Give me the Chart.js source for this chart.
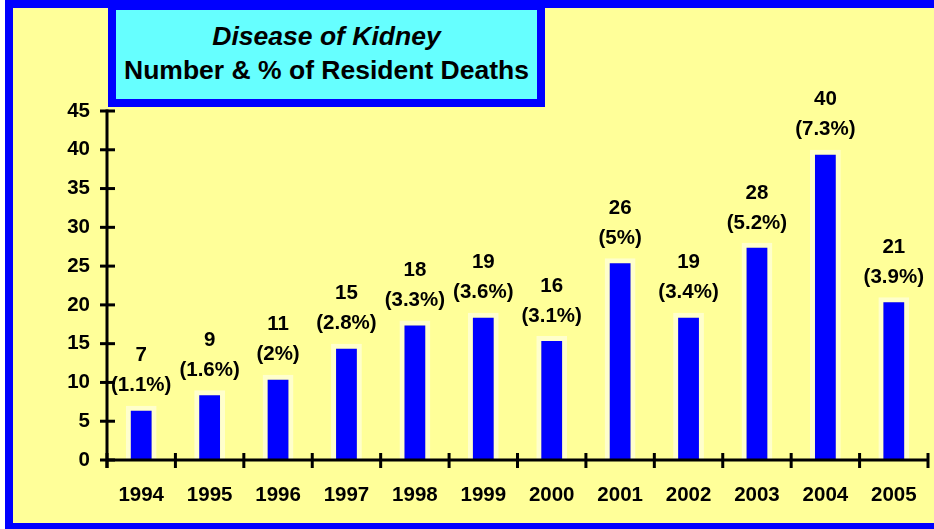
<!DOCTYPE html>
<html>
<head>
<meta charset="utf-8">
<script src="https://cdn.jsdelivr.net/npm/chart.js@4/dist/chart.umd.min.js"></script>
<style>
  html, body { margin: 0; padding: 0; width: 934px; height: 529px; overflow: hidden; background: #ffffff; }
  #frame { position: absolute; left: 5px; top: 0; width: 940px; height: 531px; box-sizing: border-box;
           border: 8px solid #0000ff; background: #ffff99; }
  #chart { position: absolute; left: 0; top: 0; }
  #titlebox { position: absolute; left: 108px; top: 0; width: 437px; height: 107px; box-sizing: border-box;
              border: 8px solid #0000ff; border-top-width: 10px; background: #66ffff;
              font-family: "Liberation Sans", Arial, sans-serif; font-weight: bold; font-size: 26.5px;
              color: #000; text-align: center; }
  #titlebox .l1 { position: absolute; left: 0; right: 0; top: 11px; font-style: italic; }
  #titlebox .l2 { position: absolute; left: 0; right: 0; top: 45px; }
</style>
</head>
<body>
<div id="frame"></div>
<canvas id="chart" width="934" height="529"></canvas>
<div id="titlebox"><div class="l1">Disease of Kidney</div><div class="l2">Number &amp; % of Resident Deaths</div></div>
<script>
const years = ["1994","1995","1996","1997","1998","1999","2000","2001","2002","2003","2004","2005"];
const deaths = [7, 9, 11, 15, 18, 19, 16, 26, 19, 28, 40, 21];
const percents = ["1.1%","1.6%","2%","2.8%","3.3%","3.6%","3.1%","5%","3.4%","5.2%","7.3%","3.9%"];
const yTicks = [0, 5, 10, 15, 20, 25, 30, 35, 40, 45];

const FONT = '"Liberation Sans", Arial, sans-serif';

const axesPlugin = {
  id: 'axesPlugin',
  afterDatasetsDraw(chart) {
    const ctx = chart.ctx, ca = chart.chartArea;
    const xs = chart.scales.x, ys = chart.scales.y;
    ctx.save();
    ctx.strokeStyle = '#000';
    ctx.lineWidth = 3;
    ctx.lineCap = 'butt';
    // y axis line
    ctx.beginPath();
    ctx.moveTo(ca.left, ys.getPixelForValue(yTicks[yTicks.length - 1]) - 1.5);
    ctx.lineTo(ca.left, ca.bottom + 8);
    ctx.stroke();
    // y ticks
    yTicks.forEach(v => {
      const py = ys.getPixelForValue(v);
      ctx.beginPath();
      ctx.moveTo(ca.left - 7, py);
      ctx.lineTo(ca.left + 8, py);
      ctx.stroke();
    });
    // x axis line
    ctx.beginPath();
    ctx.moveTo(ca.left, ca.bottom);
    ctx.lineTo(ca.right, ca.bottom);
    ctx.stroke();
    // x ticks at category boundaries
    const step = xs.getPixelForValue(1) - xs.getPixelForValue(0);
    for (let i = 0; i <= years.length; i++) {
      const px = xs.getPixelForValue(0) - step / 2 + i * step;
      ctx.beginPath();
      ctx.moveTo(px, ca.bottom - 7);
      ctx.lineTo(px, ca.bottom + 8);
      ctx.stroke();
    }
    // data labels
    const meta = chart.getDatasetMeta(0);
    ctx.fillStyle = '#000';
    ctx.font = 'bold 20.5px ' + FONT;
    ctx.textAlign = 'center';
    ctx.textBaseline = 'middle';
    meta.data.forEach((bar, i) => {
      ctx.fillText(String(deaths[i]), bar.x, bar.y - 50);
      ctx.fillText('(' + percents[i] + ')', bar.x, bar.y - 20);
    });
    ctx.restore();
  }
};

new Chart(document.getElementById('chart'), {
  type: 'bar',
  data: {
    labels: years,
    datasets: [{
      data: deaths,
      backgroundColor: '#0000ff',
      borderColor: '#ffffcc',
      borderWidth: 5,
      borderSkipped: 'start',
      barPercentage: 0.45,
      categoryPercentage: 1.0
    }]
  },
  options: {
    responsive: false,
    animation: false,
    devicePixelRatio: 1,
    layout: { padding: { left: 0, right: 6, top: 111, bottom: 0 } },
    plugins: { legend: { display: false }, title: { display: false }, tooltip: { enabled: false } },
    scales: {
      x: {
        grid: { display: false },
        border: { display: false },
        ticks: { color: '#000', font: { family: FONT, weight: 'bold', size: 20.5 }, padding: 15, maxRotation: 0 },
        afterFit(scale) { scale.height = 69; }
      },
      y: {
        min: 0, max: 45,
        grid: { display: false },
        border: { display: false },
        afterBuildTicks(scale) { scale.ticks = yTicks.map(v => ({ value: v })); },
        ticks: { color: '#000', font: { family: FONT, weight: 'bold', size: 20.5 }, padding: 9 },
        afterFit(scale) { scale.width = 107; }
      }
    }
  },
  plugins: [axesPlugin]
});
</script>
</body>
</html>
